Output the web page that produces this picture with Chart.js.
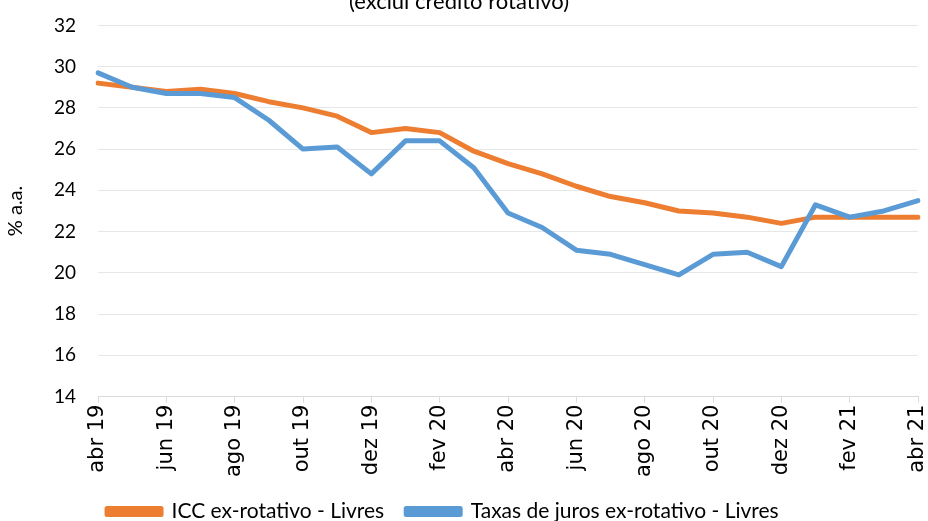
<!DOCTYPE html>
<html>
<head>
<meta charset="utf-8">
<script src="https://cdn.jsdelivr.net/npm/chart.js@4.4.0/dist/chart.umd.min.js"></script>
<style>
  html, body { margin:0; padding:0; background:#fff; overflow:hidden; }
  #wrap { position:absolute; left:0; top:-22px; width:928px; height:543px; }
</style>
</head>
<body>
<div id="wrap"><canvas id="chart"></canvas></div>
<script>
const months = ['abr 19','mai 19','jun 19','jul 19','ago 19','set 19','out 19','nov 19','dez 19','jan 20','fev 20','mar 20',
  'abr 20','mai 20','jun 20','jul 20','ago 20','set 20','out 20','nov 20','dez 20','jan 21','fev 21','mar 21','abr 21'];

const iccLivres = [29.2, 29.0, 28.8, 28.9, 28.7, 28.3, 28.0, 27.6, 26.8, 27.0, 26.8, 25.9,
  25.3, 24.8, 24.2, 23.7, 23.4, 23.0, 22.9, 22.7, 22.4, 22.7, 22.7, 22.7, 22.7];

const taxasLivres = [29.7, 29.0, 28.7, 28.7, 28.5, 27.4, 26.0, 26.1, 24.8, 26.4, 26.4, 25.1,
  22.9, 22.2, 21.1, 20.9, 20.4, 19.9, 20.9, 21.0, 20.3, 23.3, 22.7, 23.0, 23.5];

const yMin = 14, yMax = 32, yStep = 2;

const calibri = "Lato, 'Open Sans', sans-serif";

new Chart(document.getElementById('chart'), {
  type: 'line',
  data: {
    labels: months,
    datasets: [
      { label: 'ICC ex-rotativo - Livres', data: iccLivres, borderColor: '#ED7D31', backgroundColor: '#ED7D31',
        borderWidth: 5, pointRadius: 0, tension: 0, order: 1, borderCapStyle: 'round', borderJoinStyle: 'round' },
      { label: 'Taxas de juros ex-rotativo - Livres', data: taxasLivres, borderColor: '#5B9BD5', backgroundColor: '#5B9BD5',
        borderWidth: 5, pointRadius: 0, tension: 0, order: 0, borderCapStyle: 'round', borderJoinStyle: 'round' }
    ]
  },
  options: {
    responsive: true,
    maintainAspectRatio: false,
    animation: false,
    layout: { padding: { left: 0, right: 10, top: 0, bottom: -11 } },
    plugins: {
      title: { display: true, text: '(exclui crédito rotativo)', color: '#000',
        font: { family: calibri, size: 22, weight: 'normal' }, padding: { top: 11, bottom: 10 } },
      legend: { position: 'bottom',
        labels: { color: '#000', font: { family: calibri, size: 21 }, boxWidth: 54, boxHeight: 6, padding: 22,
          sort: (a, b) => a.datasetIndex - b.datasetIndex,
          generateLabels: chart => {
            const items = Chart.defaults.plugins.legend.labels.generateLabels(chart);
            // widen the gap after the first entry, like the original
            items.forEach((it, i) => { if (i === 0) it.text += '\u00a0\u00a0\u00a0\u00a0\u00a0\u00a0'; });
            return items;
          } } },
      tooltip: { enabled: false }
    },
    scales: {
      x: {
        offset: false,
        afterFit: s => { s.paddingRight = 0; },
        grid: { drawOnChartArea: false, tickLength: 6, color: '#d9d9d9',
          tickColor: ctx => ctx.index % 2 === 0 ? '#d9d9d9' : 'rgba(0,0,0,0)' },
        border: { color: '#d9d9d9' },
        ticks: { autoSkip: false, maxRotation: 90, minRotation: 90, color: '#000', padding: 2,
          font: { family: "'DejaVu Sans', sans-serif", size: 21 },
          callback: (v, i) => i % 2 === 0 ? months[i] : '' }
      },
      y: {
        min: yMin, max: yMax,
        afterFit: s => { s.width = 98; },
        title: { display: true, text: '% a.a.', color: '#000', font: { family: calibri, size: 20 }, padding: { bottom: 14 } },
        grid: { color: '#e6e6e6', drawTicks: false },
        border: { display: false },
        ticks: { stepSize: yStep, color: '#000', padding: 22, font: { family: calibri, size: 19 } }
      }
    }
  }
});
</script>
</body>
</html>
